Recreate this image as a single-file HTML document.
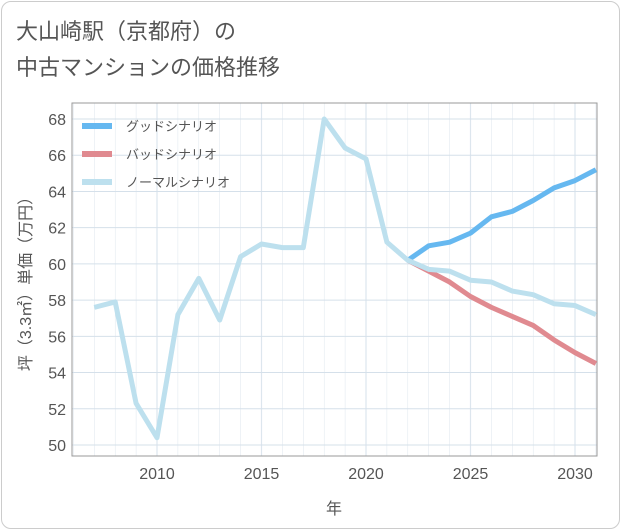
<!DOCTYPE html>
<html><head><meta charset="utf-8"><style>
body{margin:0;background:#fff;font-family:"Liberation Sans","Noto Sans CJK JP",sans-serif}
.card{position:absolute;left:1px;top:1px;width:617px;height:526px;border:1px solid #ccc;border-radius:10px;background:#fff}
.title{position:absolute;left:16px;top:14px;font-size:22px;line-height:36px;color:#555}
</style></head><body>
<div class="card"></div>
<div class="title">大山崎駅（京都府）の<br>中古マンションの価格推移</div>
<svg id="c" width="621" height="530" style="position:absolute;left:0;top:0"></svg>
<script>
const years=[2007,2008,2009,2010,2011,2012,2013,2014,2015,2016,2017,2018,2019,2020,2021,2022,2023,2024,2025,2026,2027,2028,2029,2030,2031];
const normal=[57.6,57.9,52.3,50.4,57.2,59.2,56.9,60.4,61.1,60.9,60.9,68.0,66.4,65.8,61.2,60.2,59.7,59.6,59.1,59.0,58.5,58.3,57.8,57.7,57.2];
const goodYears=[2022,2023,2024,2025,2026,2027,2028,2029,2030,2031];
const good=[60.2,61.0,61.2,61.7,62.6,62.9,63.5,64.2,64.6,65.2];
const bad=[60.2,59.6,59.0,58.2,57.6,57.1,56.6,55.8,55.1,54.5];
const xTicks=[2010,2015,2020,2025,2030];
const yTicks=[50,52,54,56,58,60,62,64,66,68];
const L=72,R=597,T=103,B=456;
const x=y=>157+(y-2010)*20.9;
const y=v=>445-(v-50)*18.11;
const s=document.getElementById('c');const NS='http://www.w3.org/2000/svg';
function mk(t,a,p){const e=document.createElementNS(NS,t);for(const k in a)e.setAttribute(k,a[k]);(p||s).appendChild(e);return e;}
for(let yr=2006;yr<=2031;yr++){const g=mk('line',{x1:x(yr),x2:x(yr),y1:T,y2:B,stroke:'#dde6ee','stroke-width':yr%5==0?1.2:0.5});
}
yTicks.forEach(v=>{const g=mk('line',{x1:L,x2:R,y1:y(v),y2:y(v),stroke:'#d5e0ea','stroke-width':1});

const t=mk('text',{x:L-6,y:y(v)+6,'text-anchor':'end','font-size':16,fill:'#555'});t.textContent=v;
});
xTicks.forEach(v=>{const t=mk('text',{x:x(v),y:479,'text-anchor':'middle','font-size':16,fill:'#555'});t.textContent=v;
});
const fr=mk('rect',{x:L,y:T,width:R-L,height:B-T,fill:'none',stroke:'#999','stroke-width':1});

function line(xs,vs,c,n){const p=mk('polyline',{points:xs.map((a,i)=>x(a)+','+y(vs[i])).join(' '),fill:'none',stroke:c,'stroke-width':5,'stroke-linejoin':'round'});
}
line(goodYears,bad,'#e08a90','bad-scenario-line');
line(goodYears,good,'#66b8f0','good-scenario-line');
line(years,normal,'#bde0ee','normal-scenario-line');
const leg=[['グッドシナリオ','#66b8f0'],['バッドシナリオ','#e08a90'],['ノーマルシナリオ','#bde0ee']];
leg.forEach((d,i)=>{const yy=126+i*28;
const l=mk('line',{x1:82,x2:112,y1:yy,y2:yy,stroke:d[1],'stroke-width':6});
const t=mk('text',{x:126,y:yy+5,'font-size':13,fill:'#555'});t.textContent=d[0];});
const xt=mk('text',{x:334,y:514,'text-anchor':'middle','font-size':16,fill:'#555'});xt.textContent='年';

const yt=mk('text',{x:0,y:0,'text-anchor':'middle','font-size':16,fill:'#555',transform:'translate(31,280) rotate(-90)'});yt.textContent='坪（3.3㎡）単価（万円）';

</script>
</body></html>
